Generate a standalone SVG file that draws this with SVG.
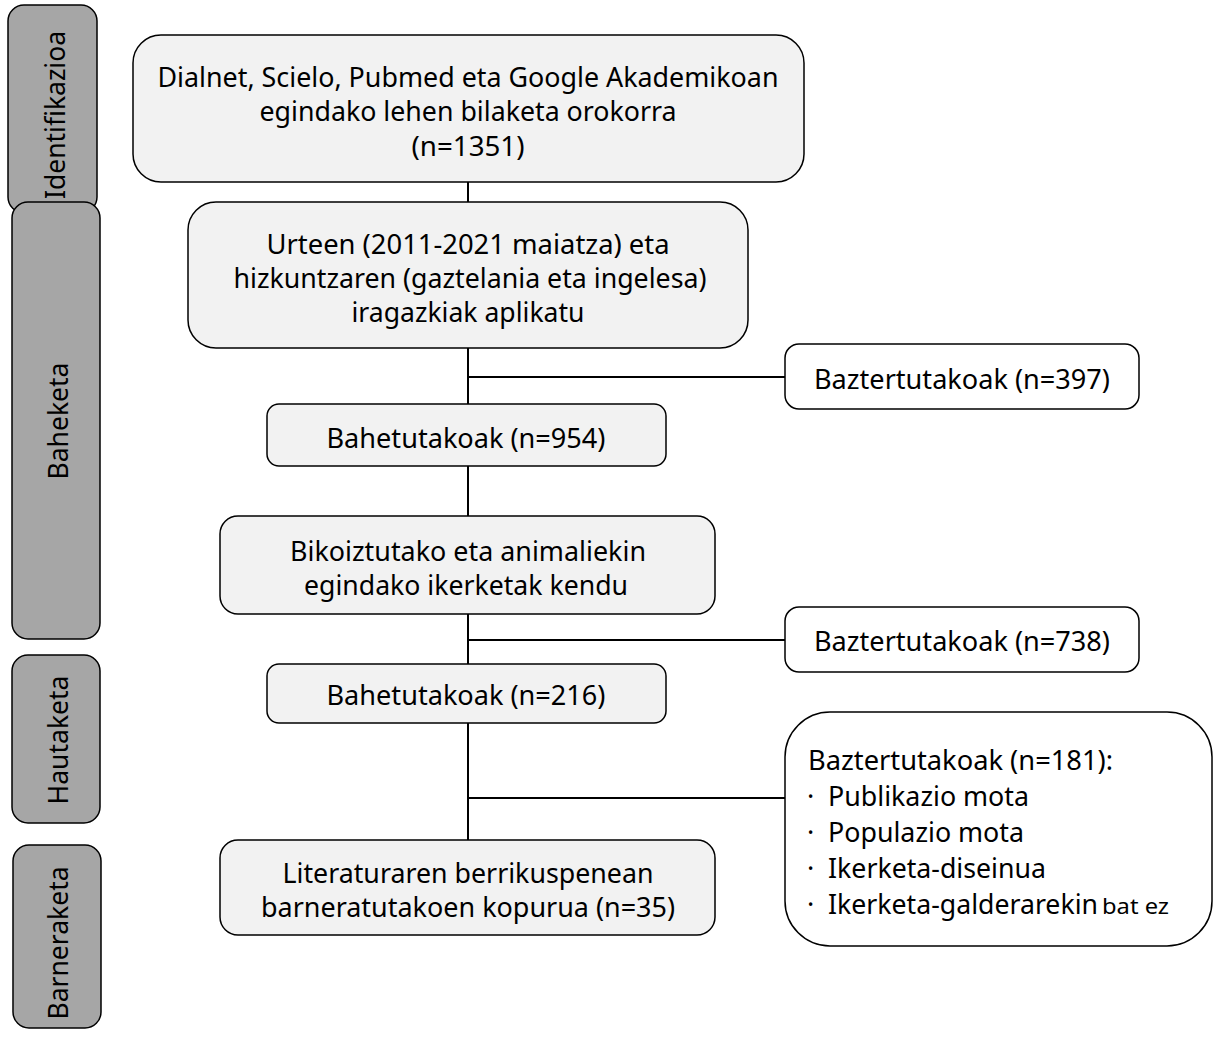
<svg xmlns="http://www.w3.org/2000/svg" width="1214" height="1037" viewBox="0 0 1214 1037">
<style>
.side{fill:#a6a6a6;stroke:#000;stroke-width:1.5}
.box{fill:#f2f2f2;stroke:#000;stroke-width:1.5}
.wbox{fill:#fff;stroke:#000;stroke-width:1.5}
.st{font-family:"Noto Sans","Open Sans",sans-serif;font-size:26.5px;fill:#000;text-anchor:middle;dominant-baseline:central}
.t{font-family:"Noto Sans","Open Sans",sans-serif;font-size:27px;fill:#000;text-anchor:middle;dominant-baseline:central}
.tl{font-family:"Noto Sans","Open Sans",sans-serif;font-size:27px;fill:#000;dominant-baseline:central}
.sm{font-size:22px}
.c{stroke:#000;stroke-width:2;fill:none}
</style>
<rect width="1214" height="1037" fill="#fff"/>
<g id="phase-identifikazioa"><rect class="side" x="8" y="5" width="89" height="208" rx="16"/><text class="st" transform="translate(55,115) rotate(-90)">Identifikazioa</text></g>
<g id="phase-baheketa"><rect class="side" x="12" y="202" width="88" height="437" rx="16"/><text class="st" transform="translate(58,421) rotate(-90)">Baheketa</text></g>
<g id="phase-hautaketa"><rect class="side" x="12" y="655" width="88" height="168" rx="16"/><text class="st" transform="translate(58,740) rotate(-90)">Hautaketa</text></g>
<g id="phase-barneraketa"><rect class="side" x="13" y="845" width="88" height="183" rx="16"/><text class="st" transform="translate(58,943) rotate(-90)">Barneraketa</text></g>
<g id="connectors">
<line class="c" x1="468" y1="150" x2="468" y2="202"/>
<line class="c" x1="468" y1="348" x2="468" y2="404"/>
<line class="c" x1="468" y1="377" x2="785" y2="377"/>
<line class="c" x1="468" y1="466" x2="468" y2="516"/>
<line class="c" x1="468" y1="614" x2="468" y2="664"/>
<line class="c" x1="468" y1="640" x2="785" y2="640"/>
<line class="c" x1="468" y1="723" x2="468" y2="840"/>
<line class="c" x1="468" y1="798" x2="785" y2="798"/>
</g>
<g id="n1"><rect class="box" x="133" y="35" width="671" height="147" rx="28"/>
<text class="t" x="468" y="76" textLength="621" lengthAdjust="spacingAndGlyphs">Dialnet, Scielo, Pubmed eta Google Akademikoan</text>
<text class="t" x="468" y="110" textLength="417" lengthAdjust="spacingAndGlyphs">egindako lehen bilaketa orokorra</text>
<text class="t" x="468" y="145" textLength="113" lengthAdjust="spacingAndGlyphs">(n=1351)</text></g>
<g id="n2"><rect class="box" x="188" y="202" width="560" height="146" rx="28"/>
<text class="t" x="468" y="243" textLength="403" lengthAdjust="spacingAndGlyphs">Urteen (2011-2021 maiatza) eta</text>
<text class="t" x="470" y="277" textLength="473" lengthAdjust="spacingAndGlyphs">hizkuntzaren (gaztelania eta ingelesa)</text>
<text class="t" x="468" y="311" textLength="233" lengthAdjust="spacingAndGlyphs">iragazkiak aplikatu</text></g>
<g id="n3"><rect class="wbox" x="785" y="344" width="354" height="65" rx="14"/>
<text class="t" x="962" y="378" textLength="296" lengthAdjust="spacingAndGlyphs">Baztertutakoak (n=397)</text></g>
<g id="n4"><rect class="box" x="267" y="404" width="399" height="62" rx="12"/>
<text class="t" x="466" y="437" textLength="279" lengthAdjust="spacingAndGlyphs">Bahetutakoak (n=954)</text></g>
<g id="n5"><rect class="box" x="220" y="516" width="495" height="98" rx="18"/>
<text class="t" x="468" y="550" textLength="356" lengthAdjust="spacingAndGlyphs">Bikoiztutako eta animaliekin</text>
<text class="t" x="466" y="584" textLength="324" lengthAdjust="spacingAndGlyphs">egindako ikerketak kendu</text></g>
<g id="n6"><rect class="wbox" x="785" y="607" width="354" height="65" rx="14"/>
<text class="t" x="962" y="640" textLength="296" lengthAdjust="spacingAndGlyphs">Baztertutakoak (n=738)</text></g>
<g id="n7"><rect class="box" x="267" y="664" width="399" height="59" rx="12"/>
<text class="t" x="466" y="694" textLength="279" lengthAdjust="spacingAndGlyphs">Bahetutakoak (n=216)</text></g>
<g id="n8"><rect class="wbox" x="785" y="712" width="427" height="234" rx="45"/>
<text class="tl" x="808" y="759" textLength="305" lengthAdjust="spacingAndGlyphs">Baztertutakoak (n=181):</text>
<text class="tl" x="807" y="795">·</text><text class="tl" x="828" y="795" textLength="201" lengthAdjust="spacingAndGlyphs">Publikazio mota</text>
<text class="tl" x="807" y="831">·</text><text class="tl" x="828" y="831" textLength="196" lengthAdjust="spacingAndGlyphs">Populazio mota</text>
<text class="tl" x="807" y="867">·</text><text class="tl" x="828" y="867" textLength="218" lengthAdjust="spacingAndGlyphs">Ikerketa-diseinua</text>
<text class="tl" x="807" y="903">·</text><text class="tl" x="828" y="903" textLength="270" lengthAdjust="spacingAndGlyphs">Ikerketa-galderarekin</text><text class="tl sm" x="1102" y="905" textLength="67" lengthAdjust="spacingAndGlyphs">bat ez</text></g>
<g id="n9"><rect class="box" x="220" y="840" width="495" height="95" rx="18"/>
<text class="t" x="468" y="872" textLength="371" lengthAdjust="spacingAndGlyphs">Literaturaren berrikuspenean</text>
<text class="t" x="468" y="906" textLength="414" lengthAdjust="spacingAndGlyphs">barneratutakoen kopurua (n=35)</text></g>
</svg>
